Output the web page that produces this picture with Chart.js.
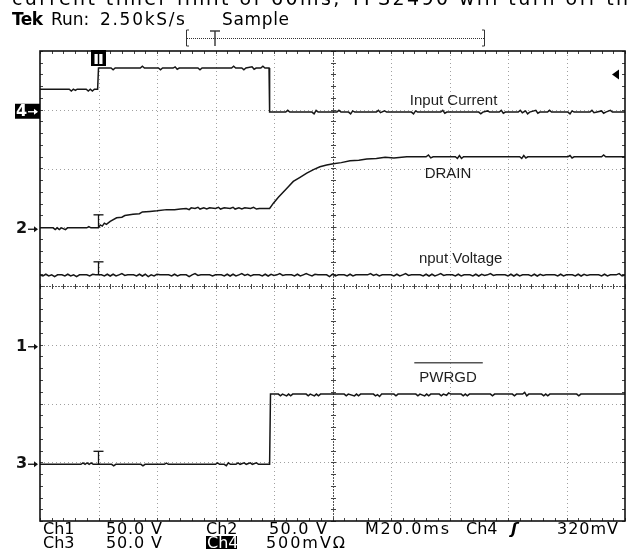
<!DOCTYPE html>
<html>
<head>
<meta charset="utf-8">
<script src="https://cdn.jsdelivr.net/npm/chart.js@4.4.0/dist/chart.umd.min.js"></script>
<style>
  html, body { margin: 0; padding: 0; background: #fff; }
  #wrap { width: 630px; height: 554px; position: relative; }
</style>
</head>
<body>
<div id="wrap"><canvas id="scope"></canvas></div>
<script>
// x = time in ms (20 ms/div, trigger at 0), y = screen divisions (0 = bottom, 8 = top)
let gridT = [0, 20, 40, 60, 80, 100, 120, 140, 160];
let gridDiv = [1, 2, 3, 4, 5, 6, 7];
let centerT = 80;
let centerDiv = 4;

let inputCurrent = [
  [-20,7.35],[-10,7.35],[-9.3,7.32],[-8.6,7.35],[-7.9,7.33],[-7.3,7.35],[-4.2,7.35],[-3.5,7.32],[-2.8,7.35],[-2.1,7.32],[-1.4,7.35],[-0.3,7.35],[0,7.71],
  [4.3,7.71],[5,7.68],[5.7,7.71],[14.3,7.71],[15,7.74],[15.7,7.71],[20.5,7.71],[21.2,7.68],[21.9,7.71],[25.5,7.71],[26.2,7.73],[26.9,7.69],[27.6,7.71],
  [34,7.71],[34.7,7.68],[35.4,7.71],[45.5,7.71],[46.2,7.74],[46.9,7.71],[49,7.71],[49.7,7.68],[50.4,7.71],[52.5,7.73],[53.2,7.69],[53.9,7.71],
  [55.5,7.71],[56.2,7.74],[56.9,7.71],[58.3,7.71],[58.5,6.96],
  [64,6.96],[64.7,6.99],[65.4,6.96],[73,6.96],[73.7,6.93],[74.4,6.99],[75.1,6.96],[81.5,6.96],[82.2,6.99],[82.9,6.96],[85.5,6.96],[86.2,6.93],[86.9,6.98],[87.6,6.96],
  [95,6.96],[95.7,6.99],[96.4,6.95],[97.8,6.98],[98.5,6.96],[107,6.96],[107.7,6.93],[108.4,6.98],[109.1,6.96],[117,6.96],[117.7,6.99],[118.4,6.94],[119.1,6.96],
  [130,6.96],[130.7,6.93],[131.4,6.96],[133,6.98],[133.7,6.96],[137,6.96],[137.7,6.99],[138.4,6.94],[139.1,6.96],[143.5,6.96],[144.2,6.99],[144.9,6.95],
  [146,6.98],[146.7,6.93],[147.4,6.96],[149.5,6.99],[150.2,6.94],[150.9,6.96],[153.5,6.96],[154.2,6.99],[154.9,6.96],[160.5,6.96],[161.2,6.93],[161.9,6.98],[162.6,6.96],
  [168,6.96],[168.7,6.99],[169.4,6.95],[172,6.98],[172.7,6.94],[173.4,6.96],[175,6.99],[175.7,6.96],[180,6.96]
];

let drain = [
  [-20,4.99],[-15.5,4.99],[-14.8,4.96],[-14.1,4.99],[-13.4,4.96],[-12.7,4.99],[-11.3,4.96],[-10.6,4.99],[-4,4.99],[-3.3,5.01],[-2.6,4.99],[0,4.99],
  [0.6,5.04],[1.3,5.02],[2,5.07],[2.7,5.05],[4,5.10],[6.2,5.16],[8,5.17],[9,5.20],[11.8,5.22],[14,5.23],[15,5.26],[17.6,5.27],[20,5.28],[23.3,5.30],
  [26,5.30],[28,5.31],[30,5.32],[31,5.30],[31.7,5.33],[33,5.32],[34,5.34],[34.7,5.31],[36,5.33],[37,5.31],[38,5.33],[40,5.32],[41,5.34],[41.7,5.31],
  [43,5.33],[45,5.32],[46,5.34],[46.7,5.31],[48,5.33],[49,5.31],[50,5.33],[52,5.32],[53,5.34],[54,5.31],[55,5.32],[58.5,5.32],
  [59.8,5.41],[61.5,5.51],[63.2,5.60],[64.9,5.69],[66.6,5.78],[68.9,5.85],[71.2,5.92],[73.5,5.98],[75.7,6.03],[78,6.06],[80.3,6.08],[83,6.10],
  [86,6.13],[89,6.14],[91.7,6.16],[95,6.17],[98,6.19],[101,6.18],[105.4,6.20],[112,6.20],[112.8,6.23],[113.6,6.18],[114.4,6.20],
  [122,6.20],[122.7,6.17],[123.4,6.22],[124.1,6.17],[124.8,6.20],[144,6.20],[144.7,6.17],[145.4,6.22],[146.1,6.18],[146.8,6.20],
  [160.5,6.20],[161.2,6.22],[161.9,6.18],[162.6,6.20],[172,6.20],[172.7,6.23],[173.4,6.20],[180,6.20]
];

let inputVoltage = [
  [-20,4.19],[-19,4.17],[-18,4.20],[-17,4.17],[-16,4.19],[-15,4.16],[-14,4.19],[-12.5,4.19],[-11.5,4.17],[-10.5,4.20],[-9.5,4.17],[-8.5,4.19],
  [-7.5,4.16],[-6.5,4.19],[-4,4.19],[-3,4.17],[-2,4.20],[-1,4.19],[1,4.19],[2,4.17],[3,4.20],[4,4.17],[5,4.20],[6,4.17],[7,4.19],[8,4.21],
  [9,4.18],[10,4.19],[12,4.19],[13,4.17],[14,4.20],[15,4.17],[16,4.20],[17,4.16],[18,4.19],[19,4.17],[20,4.20],[21,4.19],[24,4.19],[25,4.17],
  [26,4.20],[27,4.17],[28,4.19],[30,4.19],[31,4.16],[32,4.19],[33,4.21],[34,4.18],[35,4.19],[38,4.19],[39,4.17],[40,4.19],[42,4.19],[43,4.17],
  [44,4.20],[45,4.17],[46,4.20],[47,4.17],[48,4.19],[49,4.21],[50,4.18],[51,4.20],[52,4.17],[53,4.19],[55,4.19],[56,4.17],[57,4.20],[58,4.17],
  [59,4.20],[60,4.18],[61,4.19],[62,4.21],[63,4.18],[64,4.19],[66,4.19],[67,4.17],[68,4.20],[69,4.17],[70,4.19],[71,4.21],[72,4.19],[73,4.17],
  [74,4.20],[75,4.19],[78,4.19],[79,4.16],[80,4.20],[81,4.17],[82,4.19],[84,4.19],[85,4.17],[86,4.20],[87,4.17],[88,4.19],[92,4.19],[93,4.21],
  [94,4.18],[95,4.20],[96,4.17],[97,4.19],[100,4.19],[101,4.17],[102,4.20],[103,4.17],[104,4.19],[105,4.21],[106,4.18],[107,4.19],[110,4.19],
  [111,4.17],[112,4.20],[113,4.17],[114,4.20],[115,4.17],[116,4.19],[117,4.21],[118,4.18],[119,4.19],[121,4.19],[122,4.17],[123,4.20],[124,4.17],
  [125,4.19],[127,4.19],[128,4.17],[129,4.20],[130,4.17],[131,4.20],[132,4.18],[133,4.19],[134,4.21],[135,4.18],[136,4.19],[139,4.19],[140,4.17],
  [141,4.20],[142,4.17],[143,4.20],[144,4.17],[145,4.19],[147,4.19],[148,4.17],[149,4.20],[150,4.17],[151,4.20],[152,4.18],[153,4.19],[156,4.19],
  [157,4.17],[158,4.20],[159,4.17],[160,4.19],[162,4.19],[163,4.17],[164,4.20],[165,4.17],[166,4.20],[167,4.18],[168,4.19],[171,4.19],[172,4.17],
  [173,4.20],[174,4.17],[175,4.19],[177,4.19],[178,4.21],[179,4.17],[180,4.19]
];

let pwrgd = [
  [-20,0.965],[-6,0.965],[-5.3,0.99],[-4.6,0.965],[-3.9,0.99],[-3.2,0.965],[-2.5,0.99],[-1.8,0.965],[4.5,0.965],[5.2,0.94],[5.9,0.965],
  [14.5,0.965],[15.2,0.94],[15.9,0.965],[22.5,0.965],[23.2,0.985],[23.9,0.965],[40,0.965],[40.7,0.99],[41.4,0.965],[43,0.965],[43.7,0.94],
  [44.4,0.99],[45.1,0.965],[47,0.965],[47.7,0.99],[48.4,0.965],[49.8,0.99],[50.5,0.965],[51.9,0.99],[52.6,0.965],[54,0.99],[54.7,0.965],
  [58.5,0.965],[58.8,2.16],
  [61.5,2.16],[62.2,2.13],[62.9,2.16],[64.3,2.13],[65,2.16],[65.7,2.13],[66.4,2.16],[71,2.16],[71.7,2.13],[72.4,2.16],[73.8,2.13],[74.5,2.16],
  [75.2,2.13],[75.9,2.16],[84,2.16],[84.7,2.13],[85.4,2.16],[87.5,2.13],[88.2,2.16],[88.9,2.13],[89.6,2.16],[94,2.16],[94.7,2.13],[95.4,2.15],
  [96.1,2.12],[96.8,2.16],[101,2.16],[101.7,2.13],[102.4,2.16],[108.5,2.16],[109.2,2.13],[109.9,2.16],[111.5,2.13],[112.2,2.16],[112.9,2.13],
  [113.6,2.16],[116.5,2.16],[117.2,2.13],[117.9,2.16],[119,2.14],[119.7,2.18],[120.4,2.16],[124,2.16],[124.7,2.13],[125.4,2.16],[126.1,2.13],
  [126.8,2.16],[134,2.16],[134.7,2.13],[135.4,2.16],[141.5,2.16],[142.2,2.13],[142.9,2.16],[145,2.16],[145.7,2.19],[146.4,2.13],[147.1,2.16],
  [151.5,2.16],[152.2,2.13],[152.9,2.16],[153.6,2.13],[154.3,2.16],[163.5,2.16],[164.2,2.13],[164.9,2.16],[180,2.16]
];

// trace names and where they are written on the screen
let traceNames = ["Input Current", "DRAIN", "nput Voltage", "PWRGD"];
let nameSpots = [[121.4, 7.08], [119.5, 5.83], [123.8, 4.40], [119.5, 2.37]];

// channel ground markers on the left edge
let chanNames = ["4", "2", "1", "3"];
let chanLevels = [7, 5, 3, 1];
let trigLevel = 7.6;

// T marks where the trigger time crosses a trace
let trigMarkLevels = [4.99, 4.19, 0.965];

function trace(pairs) {
  return {
    data: pairs.map(p => ({ x: p[0], y: p[1] })),
    borderColor: "#161616",
    borderWidth: 1.5,
    pointRadius: 0,
    tension: 0,
    fill: false
  };
}

function fitText(ctx, s, x, y, w) {
  ctx.letterSpacing = "0px";
  let m = ctx.measureText(s).width;
  let ls = (w - m) / Math.max(1, s.length - 1);
  ctx.letterSpacing = ls.toFixed(2) + "px";
  ctx.fillText(s, x, y);
  ctx.letterSpacing = "0px";
}

function seg(ctx, x1, y1, x2, y2) {
  ctx.beginPath();
  ctx.moveTo(x1, y1);
  ctx.lineTo(x2, y2);
  ctx.stroke();
}

let scopePlugin = {
  id: "scope",
  beforeDatasetsDraw(chart) {
    let ctx = chart.ctx;
    let a = chart.chartArea;
    let x = chart.scales.x, y = chart.scales.y;
    ctx.save();
    ctx.lineWidth = 1;

    // dotted graticule
    ctx.strokeStyle = "#a0a0a0";
    ctx.setLineDash([1, 3]);
    for (let t of gridT) {
      if (t == centerT) continue;
      let px = Math.round(x.getPixelForValue(t)) + 0.5;
      seg(ctx, px, a.top, px, a.bottom);
    }
    for (let d of gridDiv) {
      if (d == centerDiv) continue;
      let py = Math.round(y.getPixelForValue(d)) + 0.5;
      seg(ctx, a.left, py, a.right, py);
    }

    // centre cross with minor ticks
    ctx.strokeStyle = "#555";
    ctx.setLineDash([2, 1]);
    let cx = Math.round(x.getPixelForValue(centerT)) + 0.5;
    let cy = Math.round(y.getPixelForValue(centerDiv)) + 0.5;
    seg(ctx, cx, a.top, cx, a.bottom);
    seg(ctx, a.left, cy, a.right, cy);
    ctx.setLineDash([]);
    ctx.strokeStyle = "#444";
    for (let t = -20; t <= 180; t += 4) {
      let px = Math.round(x.getPixelForValue(t)) + 0.5;
      seg(ctx, px, cy - 2.5, px, cy + 2.5);
      seg(ctx, px, a.top, px, a.top + 3);
      seg(ctx, px, a.bottom - 3, px, a.bottom);
    }
    for (let d = 0; d <= 8.001; d += 0.2) {
      let py = Math.round(y.getPixelForValue(d)) + 0.5;
      seg(ctx, cx - 2.5, py, cx + 2.5, py);
      seg(ctx, a.left, py, a.left + 3, py);
      seg(ctx, a.right - 3, py, a.right, py);
    }
    ctx.restore();
  },
  afterDraw(chart) {
    let ctx = chart.ctx;
    let a = chart.chartArea;
    let x = chart.scales.x, y = chart.scales.y;
    ctx.save();

    // frame
    ctx.strokeStyle = "#111";
    ctx.lineWidth = 1.6;
    ctx.strokeRect(a.left, a.top, a.right - a.left, a.bottom - a.top);

    // trigger position box at top
    let x0 = x.getPixelForValue(0);
    ctx.fillStyle = "#000";
    ctx.fillRect(x0 - 7.5, a.top - 1, 15, 16);
    ctx.fillStyle = "#fff";
    ctx.fillRect(x0 - 4, a.top + 3, 8, 10);
    ctx.strokeStyle = "#000";
    ctx.lineWidth = 1.5;
    seg(ctx, x0, a.top + 3, x0, a.top + 13);

    // trigger level arrow at right
    let ty = y.getPixelForValue(trigLevel);
    ctx.fillStyle = "#000";
    ctx.beginPath();
    ctx.moveTo(a.right - 13, ty);
    ctx.lineTo(a.right - 6, ty - 5);
    ctx.lineTo(a.right - 6, ty + 5);
    ctx.closePath();
    ctx.fill();

    // T marks on traces
    ctx.strokeStyle = "#111";
    ctx.lineWidth = 1.3;
    for (let lv of trigMarkLevels) {
      let py = y.getPixelForValue(lv);
      seg(ctx, x0, py - 13, x0, py);
      seg(ctx, x0 - 5, py - 13, x0 + 5, py - 13);
    }

    // channel ground markers
    ctx.font = "bold 16px 'DejaVu Sans'";
    ctx.textBaseline = "middle";
    for (let i = 0; i < chanNames.length; i++) {
      let py = y.getPixelForValue(chanLevels[i]) + 2;
      if (i == 0) {
        ctx.fillStyle = "#000";
        ctx.fillRect(a.left - 25, py - 8, 25, 15);
        ctx.fillStyle = "#fff";
        ctx.strokeStyle = "#fff";
      } else {
        ctx.fillStyle = "#111";
        ctx.strokeStyle = "#111";
      }
      ctx.textAlign = "left";
      ctx.fillText(chanNames[i], a.left - 24, py);
      ctx.lineWidth = 1.3;
      seg(ctx, a.left - 12, py, a.left - 3, py);
      ctx.beginPath();
      ctx.moveTo(a.left - 2, py);
      ctx.lineTo(a.left - 6, py - 3);
      ctx.lineTo(a.left - 6, py + 3);
      ctx.closePath();
      ctx.fill();
    }

    // trace names
    ctx.font = "15px 'Liberation Sans'";
    ctx.textAlign = "center";
    ctx.textBaseline = "alphabetic";
    ctx.fillStyle = "#1e1e1e";
    for (let i = 0; i < traceNames.length; i++) {
      let px = x.getPixelForValue(nameSpots[i][0]);
      let py = y.getPixelForValue(nameSpots[i][1]);
      ctx.fillText(traceNames[i], px, py);
      if (traceNames[i] == "PWRGD") {
        let w = ctx.measureText(traceNames[i]).width;
        ctx.strokeStyle = "#555";
        ctx.lineWidth = 1.6;
        seg(ctx, px - w / 2 - 5, py - 19, px + w / 2 + 6, py - 19);
      }
    }

    // header
    ctx.textAlign = "left";
    ctx.fillStyle = "#000";
    ctx.font = "19px 'DejaVu Sans'";
    fitText(ctx, "current timer limit of 60ms, TPS2490 will turn off the", 12, 5, 630);
    ctx.font = "bold 17px 'DejaVu Sans'";
    fitText(ctx, "Tek", 12, 25, 31);
    ctx.font = "17px 'DejaVu Sans'";
    ctx.fillText("Run:", 51, 25);
    fitText(ctx, "2.50kS/s", 100, 25, 85);
    fitText(ctx, "Sample", 222, 25, 67);

    // record window bracket
    ctx.strokeStyle = "#333";
    ctx.lineWidth = 1;
    seg(ctx, 186.5, 30, 186.5, 46);
    seg(ctx, 186.5, 30, 189, 30);
    seg(ctx, 186.5, 46, 189, 46);
    seg(ctx, 484.5, 30, 484.5, 46);
    seg(ctx, 482, 30, 484.5, 30);
    seg(ctx, 482, 46, 484.5, 46);
    ctx.setLineDash([1, 1]);
    seg(ctx, 187, 38.5, 484, 38.5);
    ctx.setLineDash([]);
    ctx.lineWidth = 1.4;
    seg(ctx, 215, 31, 215, 46);
    seg(ctx, 210, 31, 220, 31);

    // readout lines
    ctx.font = "16px 'DejaVu Sans'";
    ctx.fillStyle = "#000";
    ctx.fillText("Ch1", 43, 534);
    fitText(ctx, "50.0 V", 106, 534, 56);
    ctx.fillText("Ch2", 206, 534);
    fitText(ctx, "50.0 V", 269, 534, 58);
    fitText(ctx, "M20.0ms", 365, 534, 84);
    ctx.fillText("Ch4", 466, 534);
    ctx.font = "bold italic 16px 'DejaVu Sans'";
    ctx.fillText("ʃ", 511, 534);
    ctx.font = "16px 'DejaVu Sans'";
    fitText(ctx, "320mV", 557, 534, 61);
    ctx.fillText("Ch3", 43, 548);
    fitText(ctx, "50.0 V", 106, 548, 56);
    ctx.fillRect(206, 536, 31, 13);
    ctx.fillStyle = "#fff";
    ctx.fillText("Ch4", 207, 548);
    ctx.fillStyle = "#000";
    fitText(ctx, "500mVΩ", 266, 548, 79);

    ctx.restore();
  }
};

new Chart(document.getElementById("scope"), {
  type: "line",
  data: {
    datasets: [trace(inputCurrent), trace(drain), trace(inputVoltage), trace(pwrgd)]
  },
  options: {
    responsive: true,
    maintainAspectRatio: false,
    animation: false,
    events: [],
    layout: { padding: { left: 40, top: 51, right: 5, bottom: 33 } },
    plugins: {
      legend: { display: false },
      tooltip: { enabled: false }
    },
    scales: {
      x: { type: "linear", display: false, min: -20, max: 180 },
      y: { type: "linear", display: false, min: 0, max: 8 }
    }
  },
  plugins: [scopePlugin]
});
</script>
</body>
</html>
